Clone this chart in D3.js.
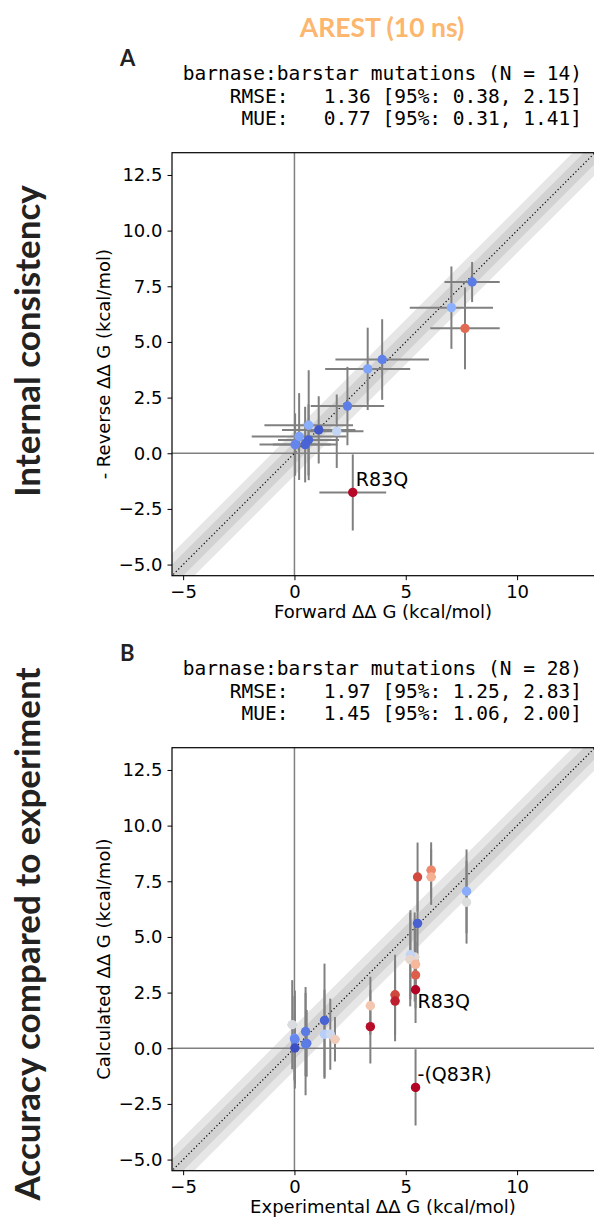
<!DOCTYPE html>
<html><head><meta charset="utf-8">
<script src="https://cdn.jsdelivr.net/npm/d3@7"></script>
<style>body{margin:0;background:#fff}</style>
</head><body>
<svg id="c" width="594" height="1220"></svg>
<script>
// ---------- data ----------
const title = "AREST (10 ns)";
const rowLabels = ["Internal consistency", "Accuracy compared to experiment"];
const panelLetters = ["A", "B"];
const statsA = ["barnase:barstar mutations (N = 14)", "RMSE:   1.36 [95%: 0.38, 2.15]", "MUE:   0.77 [95%: 0.31, 1.41]"];
const statsB = ["barnase:barstar mutations (N = 28)", "RMSE:   1.97 [95%: 1.25, 2.83]", "MUE:   1.45 [95%: 1.06, 2.00]"];
const xLabels = ["Forward ΔΔ G (kcal/mol)", "Experimental ΔΔ G (kcal/mol)"];
const yLabels = ["- Reverse ΔΔ G (kcal/mol)", "Calculated ΔΔ G (kcal/mol)"];
const axisDomain = [-5.5, 13.5];
const xTicks = [-5, 0, 5, 10];
const yTicks = [-5, -2.5, 0, 2.5, 5, 7.5, 10, 12.5];

// Panel A: forward vs -reverse
const xA    = [7.98, 7.05, 7.66, 3.94, 3.29, 2.38, 0.64, 1.09, 1.90, 0.21, 0.63, 0.48, 0.03, 2.62];
const yA    = [7.69, 6.54, 5.61, 4.21, 3.79, 2.12, 1.26, 1.05, 0.99, 0.75, 0.60, 0.39, 0.39, -1.76];
const xerrA = [1.24, 1.87, 1.56, 2.10, 1.91, 1.65, 1.99, 1.65, 1.20, 2.13, 1.37, 1.45, 1.60, 1.50];
const yerrA = [0.90, 1.85, 1.84, 1.81, 1.85, 1.76, 2.47, 1.51, 1.65, 1.95, 1.60, 1.70, 1.40, 1.71];
const colA  = ["#5b7ce5","#8db0fe","#e16a52","#5f80e8","#80a3fa","#5d7ee6","#8caffe","#4257c9","#c3d5f4","#7fa2f9","#4a63d3","#4b64d5","#6485ec","#b50927"];
const labelsA = [{i: 13, text: "R83Q", dx: 3, dy: -6}];

// Panel B: experimental vs calculated
const xB    = [0.00, 5.40, 0.55, 5.53, 6.14, 6.14, 7.73, 7.73, 5.53, 5.21, 5.20, 5.44, 5.44, 5.44, 4.52, 4.52, 3.41, 3.41, 1.35, 1.35, 1.61, 1.82, 0.50, 0.50, -0.10, 0.02, 0.02, 5.44];
const yB    = [0.45, 4.10, 0.22, 7.69, 8.00, 7.69, 7.05, 6.56, 5.61, 4.20, 3.98, 3.77, 3.29, 2.63, 2.40, 2.12, 1.91, 0.97, 1.25, 0.63, 0.63, 0.40, 0.75, 0.19, 1.06, 0.39, 0.01, -1.76];
const xerrB = [0.20, 0.20, 0.20, 0.20, 0.20, 0.20, 0.20, 0.20, 0.20, 0.20, 0.20, 0.20, 0.20, 0.20, 0.20, 0.20, 0.20, 0.20, 0.20, 0.20, 0.20, 0.20, 0.20, 0.20, 0.20, 0.20, 0.20, 0.20];
const yerrB = [1.90, 2.00, 1.50, 1.55, 1.25, 1.25, 1.88, 1.86, 1.90, 2.00, 2.10, 1.60, 1.50, 1.50, 1.80, 1.80, 1.30, 1.65, 2.55, 2.00, 1.60, 1.00, 2.00, 2.30, 2.00, 2.20, 1.60, 1.71];
const colB  = ["#7093f3","#e2dad5","#5875e1","#d1493f","#ef886b","#f5b093","#89acfd","#dcdddd","#4860d1","#c4d5f3","#e8d6cc","#f6b79b","#dd5f4b","#b40426","#d0473d","#be1e2d","#f3c6af","#b70d28","#4a63d3","#b6cefa","#cbd8ee","#f0cdbb","#5a7be3","#5b7ce5","#dadce0","#6687ed","#3d50c3","#b40426"];
const labelsB = [{i: 13, text: "R83Q", dx: 2, dy: 18}, {i: 27, text: "-(Q83R)", dx: 2, dy: -6}];

// ---------- drawing ----------
const svg = d3.select("#c");
const sans = "'DejaVu Sans', sans-serif";
const mono = "'DejaVu Sans Mono', monospace";
const bold = "Lato, 'Open Sans', sans-serif";

svg.append("text").attr("x", 382).attr("y", 37).attr("text-anchor", "middle")
  .attr("font-family", bold).attr("font-weight", 700).attr("font-size", 26.5)
  .attr("fill", "#fdb66e").text(title);

const L = 172, S = 423;
const panels = [
  {top: 152.7, x: xA, y: yA, xe: xerrA, ye: yerrA, c: colA, labels: labelsA, stats: statsA, rowCenter: 341, id: 0},
  {top: 747.7, x: xB, y: yB, xe: xerrB, ye: yerrB, c: colB, labels: labelsB, stats: statsB, rowCenter: 934, id: 1}
];

const fmtY = d => (d < 0 ? "\u2212" : "") + Math.abs(d).toFixed(1);
const fmtX = d => (d < 0 ? "\u2212" : "") + Math.abs(d);

panels.forEach(p => {
  const top = p.top;
  const x = d3.scaleLinear().domain(axisDomain).range([L, L + S]);
  const y = d3.scaleLinear().domain(axisDomain).range([top + S, top]);
  const g = svg.append("g");

  const clipId = "clip" + p.id;
  g.append("clipPath").attr("id", clipId).append("rect")
    .attr("x", L).attr("y", top).attr("width", S).attr("height", S);
  const inner = g.append("g").attr("clip-path", `url(#${clipId})`);

  // bands
  const xs = [axisDomain[0] - 2, axisDomain[1] + 2];
  [1.0, 0.5].forEach(d => {
    const pts = [[xs[0], xs[0] - d], [xs[1], xs[1] - d], [xs[1], xs[1] + d], [xs[0], xs[0] + d]];
    inner.append("path").attr("d", d3.line().x(q => x(q[0])).y(q => y(q[1]))(pts) + "Z")
      .attr("fill", "#808080").attr("fill-opacity", 0.2);
  });
  // zero lines
  inner.append("line").attr("x1", x(0)).attr("x2", x(0)).attr("y1", top).attr("y2", top + S)
    .attr("stroke", "#808080").attr("stroke-width", 1.5);
  inner.append("line").attr("x1", L).attr("x2", L + S).attr("y1", y(0)).attr("y2", y(0))
    .attr("stroke", "#808080").attr("stroke-width", 1.5);
  // diagonal
  inner.append("line").attr("x1", x(xs[0])).attr("y1", y(xs[0])).attr("x2", x(xs[1])).attr("y2", y(xs[1]))
    .attr("stroke", "#000").attr("stroke-width", 1.2).attr("stroke-dasharray", "1.2,2.4");

  const idx = d3.range(p.x.length);
  // error bars
  inner.selectAll(".xe").data(idx).join("line")
    .attr("x1", i => x(p.x[i] - p.xe[i])).attr("x2", i => x(p.x[i] + p.xe[i]))
    .attr("y1", i => y(p.y[i])).attr("y2", i => y(p.y[i]))
    .attr("stroke", "#808080").attr("stroke-width", 2);
  inner.selectAll(".ye").data(idx).join("line")
    .attr("x1", i => x(p.x[i])).attr("x2", i => x(p.x[i]))
    .attr("y1", i => y(p.y[i] - p.ye[i])).attr("y2", i => y(p.y[i] + p.ye[i]))
    .attr("stroke", "#808080").attr("stroke-width", 2);
  // points
  inner.selectAll(".pt").data(idx).join("circle")
    .attr("cx", i => x(p.x[i])).attr("cy", i => y(p.y[i])).attr("r", 4.7)
    .attr("fill", i => p.c[i]);

  // annotations
  p.labels.forEach(lb => {
    g.append("text").attr("x", x(p.x[lb.i]) + lb.dx).attr("y", y(p.y[lb.i]) + lb.dy)
      .attr("font-family", sans).attr("font-size", 19).attr("fill", "#000").text(lb.text);
  });

  // axes
  const ax = g.append("g").attr("transform", `translate(0,${top + S})`)
    .call(d3.axisBottom(x).tickValues(xTicks).tickFormat(fmtX).tickSize(4.5).tickPadding(5));
  const ay = g.append("g").attr("transform", `translate(${L},0)`)
    .call(d3.axisLeft(y).tickValues(yTicks).tickFormat(fmtY).tickSize(4.5).tickPadding(5));
  [ax, ay].forEach(a => {
    a.select(".domain").remove();
    a.selectAll("text").attr("font-family", sans).attr("font-size", 18).attr("fill", "#000");
    a.selectAll("line").attr("stroke", "#000").attr("stroke-width", 1);
  });
  // frame
  g.append("rect").attr("x", L).attr("y", top).attr("width", S).attr("height", S)
    .attr("fill", "none").attr("stroke", "#000").attr("stroke-width", 1.2);

  // axis labels
  g.append("text").attr("x", L + S / 2 - 0.5).attr("y", top + S + 42)
    .attr("text-anchor", "middle").attr("font-family", sans).attr("font-size", 18).text(xLabels[p.id]);
  g.append("text").attr("transform", `translate(110,${top + S / 2}) rotate(-90)`)
    .attr("text-anchor", "middle").attr("font-family", sans).attr("font-size", 18).text(yLabels[p.id]);

  // panel letter
  g.append("text").attr("x", 120).attr("y", top - 86.5)
    .attr("font-family", bold).attr("font-weight", 700).attr("font-size", 22).attr("fill", "#222").text(panelLetters[p.id]);

  // stats
  p.stats.forEach((s, k) => {
    g.append("text").attr("x", 582).attr("y", top - 72.7 + k * 22.5)
      .attr("text-anchor", "end").attr("font-family", mono).attr("font-size", 19.5)
      .style("white-space", "pre").text(s);
  });

  // row label
  g.append("text").attr("transform", `translate(40,${p.rowCenter}) rotate(-90)`)
    .attr("text-anchor", "middle").attr("font-family", bold).attr("font-weight", 700).attr("font-size", 35)
    .attr("fill", "#222").text(rowLabels[p.id]);
});
</script>
</body></html>
